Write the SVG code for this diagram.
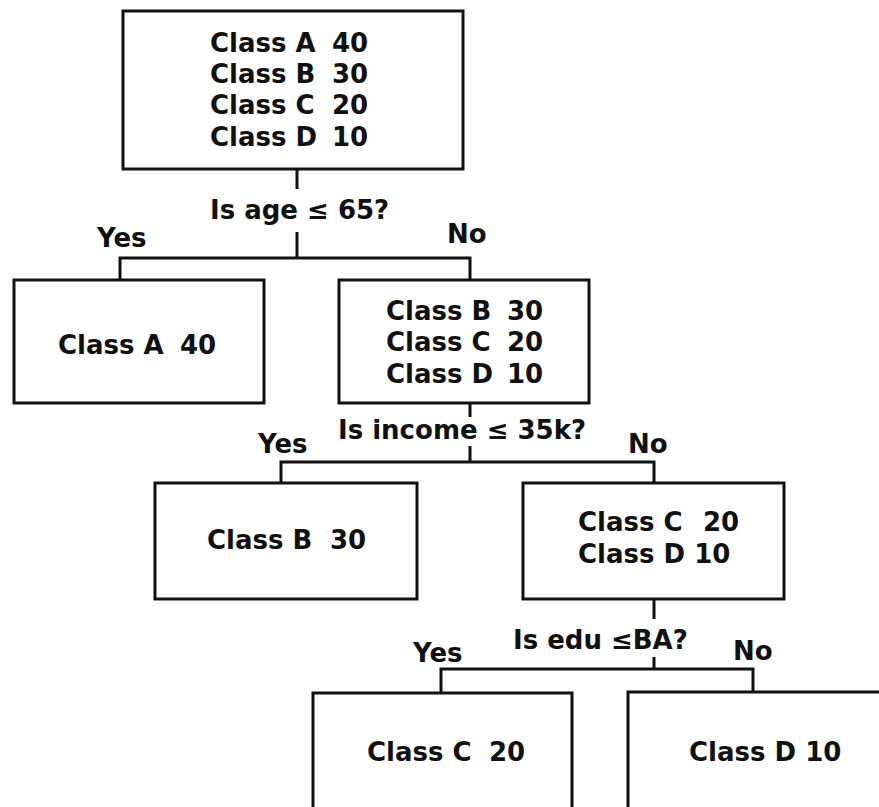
<svg xmlns="http://www.w3.org/2000/svg" width="879" height="807" viewBox="0 0 879 807">
<style>
.box{fill:#fff;stroke:#111;stroke-width:3}
.t{font-family:"DejaVu Sans","Liberation Sans",sans-serif;font-weight:bold;font-size:26px;fill:#111}
.c{fill:none;stroke:#111;stroke-width:3}
</style>
<rect width="879" height="807" fill="#fff"/>
<g id="connectors">
<path class="c" d="M297,169 V189 M297,232 V258"/>
<path class="c" d="M120,281 V258 H470 V281"/>
<path class="c" d="M470,403 V417 M470,446 V462"/>
<path class="c" d="M281,484 V462 H654 V484"/>
<path class="c" d="M654,599 V619 M654,657 V669"/>
<path class="c" d="M441,694 V669 H753 V693"/>
<text class="t" x="210" y="219">Is age ≤ 65?</text>
<text class="t" x="97" y="247">Yes</text>
<text class="t" x="447" y="243">No</text>
<text class="t" x="338" y="439">Is income ≤ 35k?</text>
<text class="t" x="258" y="453">Yes</text>
<text class="t" x="628" y="453">No</text>
<text class="t" x="513" y="649">Is edu ≤BA?</text>
<text class="t" x="413" y="662">Yes</text>
<text class="t" x="733" y="660">No</text>
</g>
<g id="root">
<rect class="box" x="123" y="11" width="340" height="158"/>
<text class="t" y="52"><tspan x="210">Class A </tspan><tspan x="332">40</tspan></text>
<text class="t" y="83"><tspan x="210">Class B </tspan><tspan x="332">30</tspan></text>
<text class="t" y="114"><tspan x="210">Class C </tspan><tspan x="332">20</tspan></text>
<text class="t" y="146"><tspan x="210">Class D </tspan><tspan x="332">10</tspan></text>
</g>
<g id="leafA">
<rect class="box" x="14" y="280" width="250" height="123"/>
<text class="t" y="354"><tspan x="58">Class A </tspan><tspan x="180">40</tspan></text>
</g>
<g id="nodeBCD">
<rect class="box" x="339" y="280" width="250" height="123"/>
<text class="t" y="320"><tspan x="386">Class B </tspan><tspan x="507">30</tspan></text>
<text class="t" y="351"><tspan x="386">Class C </tspan><tspan x="507">20</tspan></text>
<text class="t" y="383"><tspan x="386">Class D </tspan><tspan x="507">10</tspan></text>
</g>
<g id="leafB">
<rect class="box" x="155" y="483" width="262" height="116"/>
<text class="t" y="549"><tspan x="207">Class B </tspan><tspan x="330">30</tspan></text>
</g>
<g id="nodeCD">
<rect class="box" x="523" y="483" width="261" height="116"/>
<text class="t" y="531"><tspan x="578">Class C </tspan><tspan x="703">20</tspan></text>
<text class="t" x="578" y="563">Class D 10</text>
</g>
<g id="leafC">
<rect class="box" x="313" y="693" width="259" height="140"/>
<text class="t" y="761"><tspan x="367">Class C </tspan><tspan x="489">20</tspan></text>
</g>
<g id="leafD">
<rect class="box" x="628" y="692" width="280" height="140"/>
<text class="t" x="689" y="761">Class D 10</text>
</g>
</svg>
